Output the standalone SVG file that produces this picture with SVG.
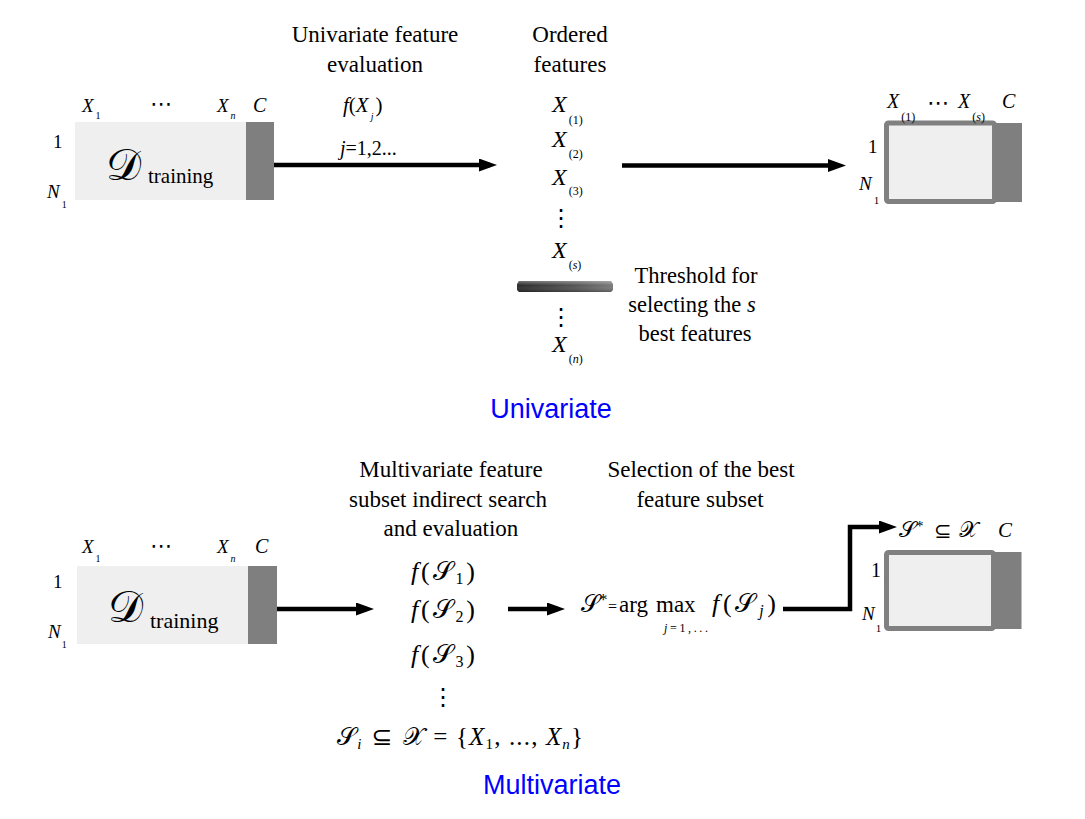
<svg xmlns="http://www.w3.org/2000/svg" width="1085" height="819" viewBox="0 0 1085 819">
<defs>
<style>
.m{font-style:italic}
.cal{font-family:"DejaVu Serif","DejaVu Sans","Noto Sans",serif;font-style:normal}
.sym{font-family:"DejaVu Sans","Noto Sans",sans-serif;font-style:normal}
.blue{font-family:"Liberation Sans",Arial,sans-serif;fill:#0000ff;font-size:27px}
.light{fill:#efefef}
.dark{fill:#7f7f7f}
.frame{fill:#efefef;stroke:#808080;stroke-width:5}
.conn{stroke:#000;stroke-width:4.5;fill:none}
</style>
<marker id="ah" markerUnits="userSpaceOnUse" markerWidth="18" markerHeight="13" refX="11" refY="6.5" orient="auto"><path d="M0,0 L18,6.5 L0,13 z" fill="#000"/></marker>
<linearGradient id="barg" x1="0" x2="1" y1="0" y2="0"><stop offset="0" stop-color="#2b2b2b"/><stop offset="0.6" stop-color="#555"/><stop offset="1" stop-color="#7a7a7a"/></linearGradient>
<linearGradient id="barv" x1="0" x2="0" y1="0" y2="1"><stop offset="0" stop-color="#fff" stop-opacity="0.35"/><stop offset="0.4" stop-color="#fff" stop-opacity="0"/><stop offset="1" stop-color="#000" stop-opacity="0.25"/></linearGradient>
</defs>
<rect width="1085" height="819" fill="#fff"/>
<g font-family="Liberation Serif, DejaVu Serif, serif" fill="#000">

<g id="titles">
<text x="375" y="42" font-size="23" text-anchor="middle">Univariate feature</text>
<text x="375" y="72" font-size="23" text-anchor="middle">evaluation</text>
<text x="570" y="42" font-size="23" text-anchor="middle">Ordered</text>
<text x="570" y="72" font-size="23" text-anchor="middle">features</text>
<text x="451" y="477" font-size="23" text-anchor="middle">Multivariate feature</text>
<text x="448" y="507" font-size="23" text-anchor="middle">subset indirect search</text>
<text x="451" y="536" font-size="23" text-anchor="middle">and evaluation</text>
<text x="701" y="477" font-size="23" text-anchor="middle">Selection of the best</text>
<text x="700" y="507" font-size="23" text-anchor="middle">feature subset</text>
<text class="blue" x="551" y="418" text-anchor="middle">Univariate</text>
<text class="blue" x="552" y="794" text-anchor="middle">Multivariate</text>
</g>

<g id="training-top">
<rect class="light" x="75" y="122" width="171" height="78"/>
<rect class="dark" x="246" y="122" width="28" height="78"/>
<text x="82" y="112" font-size="19"><tspan class="m">X</tspan><tspan font-size="10" dx="2" dy="7">1</tspan></text>
<text class="sym" x="150" y="111" font-size="22">⋯</text>
<text x="217" y="112" font-size="19"><tspan class="m">X</tspan><tspan class="m" font-size="10" dx="2" dy="7">n</tspan></text>
<text class="m" x="253" y="112" font-size="20">C</text>
<text x="53" y="148" font-size="19">1</text>
<text x="47" y="198" font-size="19"><tspan class="m">N</tspan><tspan font-size="10" dx="2" dy="10">1</tspan></text>
<text class="cal" x="106" y="180" font-size="44">𝒟</text>
<text x="148" y="183" font-size="21">training</text>
</g>

<g id="eval-top">
<text x="343" y="112" font-size="21"><tspan class="m">f</tspan>(<tspan class="m">X</tspan><tspan class="m" font-size="10" dx="2" dy="8">j</tspan><tspan dx="2" dy="-8">)</tspan></text>
<text x="340" y="155" font-size="20"><tspan class="m">j</tspan>=1,2...</text>
</g>

<g id="ordered">
<text x="552" y="112" font-size="24"><tspan class="m">X</tspan><tspan font-size="12" dx="2" dy="12">(1)</tspan></text>
<text x="552" y="147" font-size="24"><tspan class="m">X</tspan><tspan font-size="12" dx="2" dy="11">(2)</tspan></text>
<text x="552" y="185" font-size="24"><tspan class="m">X</tspan><tspan font-size="12" dx="2" dy="10">(3)</tspan></text>
<text class="sym" x="561" y="226" font-size="24" text-anchor="middle">⋮</text>
<text x="552" y="258" font-size="24"><tspan class="m">X</tspan><tspan font-size="12" dx="2" dy="11">(<tspan class="m">s</tspan>)</tspan></text>
<text class="sym" x="561" y="325" font-size="24" text-anchor="middle">⋮</text>
<text x="552" y="352" font-size="24"><tspan class="m">X</tspan><tspan font-size="12" dx="2" dy="11">(<tspan class="m">n</tspan>)</tspan></text>
</g>

<g id="threshold">
<path d="M519,281 L611,281 L613,284 L613,290 L611,292 L519,292 L517,290 L517,284 Z" fill="url(#barg)"/>
<path d="M519,281 L611,281 L613,284 L613,290 L611,292 L519,292 L517,290 L517,284 Z" fill="url(#barv)"/>
<text x="696" y="283" font-size="22.5" text-anchor="middle">Threshold for</text>
<text x="692" y="312" font-size="22.5" text-anchor="middle">selecting the <tspan class="m">s</tspan></text>
<text x="695" y="341" font-size="22.5" text-anchor="middle">best features</text>
</g>

<g id="selected-top">
<rect class="frame" x="886.5" y="123" width="108" height="78.5" rx="2"/>
<rect class="dark" x="994.5" y="123" width="27.5" height="79"/>
<text x="887" y="108" font-size="20"><tspan class="m">X</tspan><tspan font-size="12" dx="2" dy="13">(1)</tspan></text>
<text class="sym" x="927" y="110" font-size="22">⋯</text>
<text x="958" y="108" font-size="20"><tspan class="m">X</tspan><tspan font-size="12" dx="2" dy="13">(<tspan class="m">s</tspan>)</tspan></text>
<text class="m" x="1002" y="108" font-size="20">C</text>
<text x="868" y="153" font-size="19">1</text>
<text x="859" y="190" font-size="19"><tspan class="m">N</tspan><tspan font-size="11" dx="2" dy="14">1</tspan></text>
</g>

<g id="training-bottom">
<rect class="light" x="77" y="566" width="171" height="78"/>
<rect class="dark" x="248" y="566" width="29" height="78"/>
<text x="82" y="553" font-size="19"><tspan class="m">X</tspan><tspan font-size="10" dx="2" dy="9">1</tspan></text>
<text class="sym" x="150" y="553" font-size="22">⋯</text>
<text x="217" y="553" font-size="19"><tspan class="m">X</tspan><tspan class="m" font-size="10" dx="2" dy="9">n</tspan></text>
<text class="m" x="255" y="553" font-size="20">C</text>
<text x="53" y="588" font-size="19">1</text>
<text x="48" y="638" font-size="19"><tspan class="m">N</tspan><tspan font-size="10" dx="1" dy="10">1</tspan></text>
<text class="cal" x="108" y="622" font-size="44">𝒟</text>
<text x="150" y="628" font-size="22">training</text>
</g>

<g id="subsets">
<text x="443" y="580" font-size="26" text-anchor="middle" textLength="64" lengthAdjust="spacing"><tspan class="m">f</tspan>(<tspan class="cal">𝒮</tspan><tspan font-size="16" dy="4">1</tspan><tspan dy="-4">)</tspan></text>
<text x="443" y="618" font-size="26" text-anchor="middle" textLength="64" lengthAdjust="spacing"><tspan class="m">f</tspan>(<tspan class="cal">𝒮</tspan><tspan font-size="16" dy="4">2</tspan><tspan dy="-4">)</tspan></text>
<text x="443" y="663" font-size="26" text-anchor="middle" textLength="64" lengthAdjust="spacing"><tspan class="m">f</tspan>(<tspan class="cal">𝒮</tspan><tspan font-size="16" dy="4">3</tspan><tspan dy="-4">)</tspan></text>
<text class="sym" x="443" y="705" font-size="24" text-anchor="middle">⋮</text>
<text x="337" y="745" font-size="25" textLength="246" lengthAdjust="spacing"><tspan class="cal">𝒮</tspan><tspan class="m" font-size="15" dy="4">i</tspan><tspan class="sym" dy="-4"> ⊆ </tspan><tspan class="cal">𝒳</tspan> = {<tspan class="m">X</tspan><tspan font-size="15" dy="4">1</tspan><tspan dy="-4">, ..., </tspan><tspan class="m">X</tspan><tspan class="m" font-size="15" dy="4">n</tspan><tspan dy="-4">}</tspan></text>
</g>

<g id="argmax">
<text class="cal" x="581" y="612" font-size="24">𝒮</text>
<text x="599" y="605" font-size="17">*</text>
<text x="608" y="612" font-size="16">=</text>
<text x="619" y="612" font-size="23">arg</text>
<text x="656" y="612" font-size="23">max</text>
<text x="664" y="632" font-size="12" textLength="44" lengthAdjust="spacing"><tspan class="m">j</tspan>=1,...</text>
<text x="712" y="612" font-size="26" textLength="64" lengthAdjust="spacing"><tspan class="m">f</tspan>(<tspan class="cal">𝒮</tspan><tspan class="m" font-size="16" dy="4">j</tspan><tspan dy="-4">)</tspan></text>
</g>

<g id="selected-bottom">
<rect class="frame" x="886.5" y="552.5" width="107" height="76" rx="2"/>
<rect class="dark" x="993.5" y="552" width="28" height="77"/>
<text class="cal" x="899" y="537" font-size="22">𝒮</text>
<text x="916" y="531" font-size="15">*</text>
<text class="sym" x="934" y="538" font-size="21">⊆</text>
<text class="cal" x="959" y="537" font-size="22">𝒳</text>
<text class="m" x="998" y="537" font-size="21">C</text>
<text x="871" y="577" font-size="20">1</text>
<text x="862" y="620" font-size="19"><tspan class="m">N</tspan><tspan font-size="11" dx="1" dy="12">1</tspan></text>
</g>

</g>
<g id="connectors">
<line class="conn" x1="274" y1="165" x2="490" y2="165" marker-end="url(#ah)"/>
<line class="conn" x1="622" y1="165.5" x2="839" y2="165.5" marker-end="url(#ah)"/>
<line class="conn" x1="277" y1="609" x2="367" y2="609" marker-end="url(#ah)"/>
<line class="conn" x1="508" y1="609" x2="558" y2="609" marker-end="url(#ah)"/>
<path class="conn" d="M783,609 H850 V527 H890" marker-end="url(#ah)"/>
</g>
</svg>
